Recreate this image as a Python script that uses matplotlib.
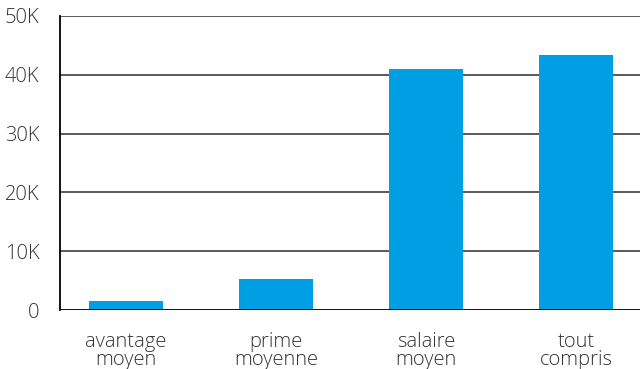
import matplotlib
matplotlib.use('Agg')
import matplotlib.pyplot as plt
import numpy as np

### DATA ---
categories = ['avantage\nmoyen', 'prime\nmoyenne', 'salaire\nmoyen', 'tout\ncompris']
values = [1600, 5300, 41000, 43400]
yticks = [0, 10000, 20000, 30000, 40000, 50000]
ytick_labels = ['0', '10K', '20K', '30K', '40K', '50K']

### PLOT ---
plt.rcParams['font.family'] = ['Open Sans', 'DejaVu Sans']
fig = plt.figure(figsize=(6.4, 3.69), dpi=100)
ax = fig.add_axes([60/640, 1 - 310/369, 580/640, 294/369])

x = np.arange(len(categories))
ax.bar(x, values, width=0.49, color='#009FE3', zorder=3)

# Grid lines
for yt in yticks[1:]:
    ax.axhline(yt, color='#4d4d4d', lw=1.3, zorder=1)
ax.axhline(0, color='black', lw=1.3, zorder=4)

ax.set_xlim(-0.44, 3.427)
ax.set_ylim(0, 50000)
ax.set_yticks(yticks)
ax.set_yticklabels(ytick_labels, fontweight='light')
ax.set_xticks(x)
ax.set_xticklabels(categories, linespacing=0.88, fontweight='light')

for s in ['top', 'right', 'bottom']:
    ax.spines[s].set_visible(False)
ax.spines['left'].set_color('black')
ax.spines['left'].set_linewidth(1.3)

ax.tick_params(axis='both', length=0, labelsize=14.5, colors='#333333')
ax.tick_params(axis='y', pad=15)
ax.tick_params(axis='x', pad=16)

fig.savefig('out.png', dpi=100)
